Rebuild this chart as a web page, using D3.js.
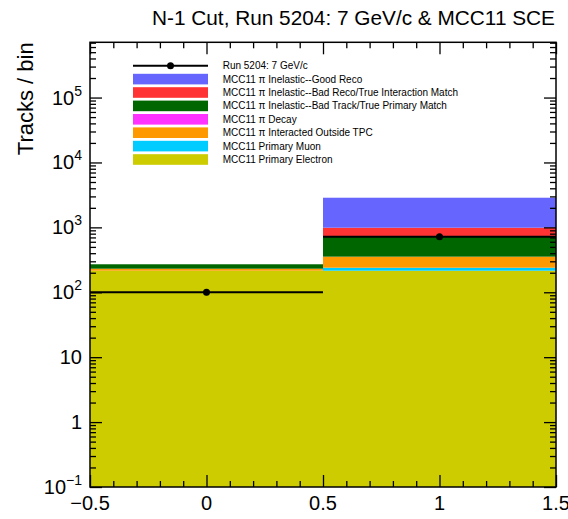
<!DOCTYPE html>
<html>
<head>
<meta charset="utf-8">
<script src="https://cdn.jsdelivr.net/npm/d3@7"></script>
<style>
  body { margin: 0; background: #fff; }
  text { font-family: "Liberation Sans", Arial, Helvetica, sans-serif; }
</style>
</head>
<body>
<div id="chart"></div>
<script>
const WIDTH = 568;
const HEIGHT = 519;

const margin = { top: 42.3, right: 12, bottom: 32, left: 90 };

// bins
const binEdges = [-0.5, 0.5, 1.5];
const binCenters = [0, 1];

// stacked MC categories, bottom of the stack first
const categories = [
  'MCC11 Primary Electron',
  'MCC11 Primary Muon',
  'MCC11 π Interacted Outside TPC',
  'MCC11 π Decay',
  'MCC11 π Inelastic--Bad Track/True Primary Match',
  'MCC11 π Inelastic--Bad Reco/True Interaction Match',
  'MCC11 π Inelastic--Good Reco',
];
const colors = ['#cccc00', '#00ccff', '#ff9900', '#ff33ff', '#006600', '#ff3333', '#6666ff'];

const electron = [215, 215];
const muon = [0, 24];
const outsideTPC = [16, 115];
const decay = [0, 0];
const badTrack = [39, 365];
const badReco = [0, 269];
const goodReco = [0, 1875];

const dataLabel = 'Run 5204: 7 GeV/c';
const dataValues = [100, 719];

const yTickValues = [0.1, 1, 10, 100, 1000, 1e4, 1e5];
const yTickLabels = [['10', '−1'], ['1', ''], ['10', ''], ['10', '2'], ['10', '3'], ['10', '4'], ['10', '5']];
const xTickValues = [-0.5, 0, 0.5, 1, 1.5];
const xTickLabels = ['−0.5', '0', '0.5', '1', '1.5'];

const title = 'N-1 Cut, Run 5204: 7 GeV/c & MCC11 SCE';
const yTitle = 'Tracks / bin';

const series = [electron, muon, outsideTPC, decay, badTrack, badReco, goodReco];

const plotW = WIDTH - margin.left - margin.right;
const plotH = HEIGHT - margin.top - margin.bottom;

const svg = d3
  .select('#chart')
  .append('svg')
  .attr('width', WIDTH)
  .attr('height', HEIGHT);

const g = svg.append('g').attr('transform', `translate(${margin.left}, ${margin.top})`);

const x = d3.scaleLinear().domain([-0.5, 1.5]).range([0, plotW]);
const y = d3.scaleLog().domain([0.1, 7.1e5]).range([plotH, 0]).clamp(true);

// stack
const table = binCenters.map((c, i) => {
  const row = { bin: i };
  categories.forEach((k, j) => (row[k] = series[j][i]));
  return row;
});
const stacked = d3.stack().keys(categories)(table);

stacked.forEach((layer, j) => {
  g.append('g')
    .attr('fill', colors[j])
    .selectAll('rect')
    .data(layer)
    .join('rect')
    .filter((d) => d[1] - d[0] > 0)
    .attr('x', (d) => x(binEdges[d.data.bin]))
    .attr('width', (d) => x(binEdges[d.data.bin + 1]) - x(binEdges[d.data.bin]))
    .attr('y', (d) => y(d[1]))
    .attr('height', (d) => y(Math.max(d[0], 0.1)) - y(d[1]));
});

// data points with error bars
const pts = g.append('g');
dataValues.forEach((v, i) => {
  pts.append('line')
    .attr('x1', x(binEdges[i])).attr('x2', x(binEdges[i + 1]))
    .attr('y1', y(v)).attr('y2', y(v))
    .attr('stroke', '#000').attr('stroke-width', 2);
  pts.append('line')
    .attr('x1', x(binCenters[i])).attr('x2', x(binCenters[i]))
    .attr('y1', y(v + Math.sqrt(v))).attr('y2', y(v - Math.sqrt(v)))
    .attr('stroke', '#000').attr('stroke-width', 2);
  pts.append('circle')
    .attr('cx', x(binCenters[i])).attr('cy', y(v)).attr('r', 3.5)
    .attr('fill', '#000');
});

// ticks
const [ylo, yhi] = y.domain();
const yMinor = [];
for (let p = -1; p <= 5; p++) {
  for (let m = 2; m <= 9; m++) {
    const v = m * Math.pow(10, p);
    if (v > ylo && v < yhi) yMinor.push(+v.toPrecision(3));
  }
}
const xMinor = d3.range(-0.4, 1.5, 0.1).map((v) => +v.toFixed(1)).filter((v) => !xTickValues.includes(v));

const axisStyle = (sel) => {
  sel.select('.domain').remove();
  sel.selectAll('.tick line').attr('stroke', '#000').attr('stroke-width', 1.3);
};

// left and right
g.append('g').call(d3.axisLeft(y).tickValues(yTickValues).tickSize(-12).tickFormat('')).call(axisStyle);
g.append('g').call(d3.axisLeft(y).tickValues(yMinor).tickSize(-6).tickFormat('')).call(axisStyle);
g.append('g').attr('transform', `translate(${plotW},0)`)
  .call(d3.axisRight(y).tickValues(yTickValues).tickSize(-12).tickFormat('')).call(axisStyle);
g.append('g').attr('transform', `translate(${plotW},0)`)
  .call(d3.axisRight(y).tickValues(yMinor).tickSize(-6).tickFormat('')).call(axisStyle);
// bottom and top
g.append('g').attr('transform', `translate(0,${plotH})`)
  .call(d3.axisBottom(x).tickValues(xTickValues).tickSize(-12).tickFormat('')).call(axisStyle);
g.append('g').attr('transform', `translate(0,${plotH})`)
  .call(d3.axisBottom(x).tickValues(xMinor).tickSize(-6).tickFormat('')).call(axisStyle);
g.append('g')
  .call(d3.axisTop(x).tickValues(xTickValues).tickSize(-12).tickFormat('')).call(axisStyle);
g.append('g')
  .call(d3.axisTop(x).tickValues(xMinor).tickSize(-6).tickFormat('')).call(axisStyle);

// frame
g.append('rect')
  .attr('width', plotW).attr('height', plotH)
  .attr('fill', 'none').attr('stroke', '#000').attr('stroke-width', 1.5);

// y labels
yTickValues.forEach((v, i) => {
  const [base, exp] = yTickLabels[i];
  const t = g.append('text')
    .attr('x', -8).attr('y', y(v) + 7)
    .attr('text-anchor', 'end')
    .attr('font-size', 20);
  t.append('tspan').text(base);
  if (exp) t.append('tspan').attr('font-size', 14).attr('dy', -9).text(exp);
});

// x labels
xTickValues.forEach((v, i) => {
  g.append('text')
    .attr('x', x(v)).attr('y', plotH + 23)
    .attr('text-anchor', 'middle')
    .attr('font-size', 20)
    .text(xTickLabels[i]);
});

// titles
svg.append('text')
  .attr('x', 555).attr('y', 25)
  .attr('text-anchor', 'end')
  .attr('font-size', 20.8)
  .text(title);

svg.append('text')
  .attr('transform', `translate(33, ${margin.top}) rotate(-90)`)
  .attr('text-anchor', 'end')
  .attr('font-size', 22)
  .text(yTitle);

// legend
const legend = svg.append('g').attr('transform', 'translate(133, 65.7)');
const rowH = 13.4;
legend.append('line')
  .attr('x1', 0).attr('x2', 75).attr('y1', 0).attr('y2', 0)
  .attr('stroke', '#000').attr('stroke-width', 2);
legend.append('circle').attr('cx', 37.5).attr('cy', 0).attr('r', 3.5).attr('fill', '#000');
legend.append('text').attr('x', 89.7).attr('y', 3.6).attr('font-size', 10).text(dataLabel);

const legendOrder = categories.map((c, j) => j).reverse();
legendOrder.forEach((j, k) => {
  const cy = (k + 1) * rowH;
  legend.append('rect')
    .attr('x', 0).attr('y', cy - 5.3).attr('width', 75).attr('height', 10.6)
    .attr('fill', colors[j]);
  legend.append('text')
    .attr('x', 89.7).attr('y', cy + 3.6)
    .attr('font-size', 10)
    .text(categories[j]);
});
</script>
</body>
</html>
